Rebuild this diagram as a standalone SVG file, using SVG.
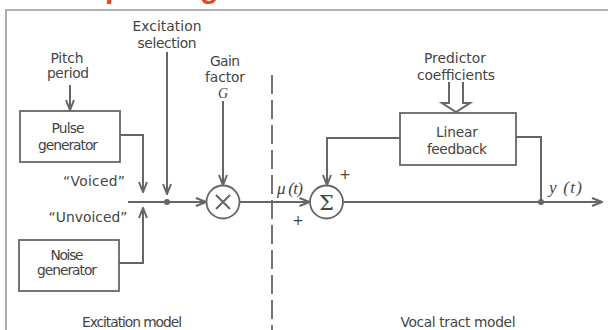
<svg xmlns="http://www.w3.org/2000/svg" width="608" height="330" viewBox="0 0 608 330">
<style>
.t{font-family:"DejaVu Sans","Liberation Sans",sans-serif;font-size:13.8px;fill:#444;text-anchor:middle}
.m{font-family:"Liberation Serif","DejaVu Serif",serif;font-style:italic;font-size:17px;fill:#444}
.ln{fill:none;stroke:#666;stroke-width:2}
.bx{fill:none;stroke:#666;stroke-width:1.8}
.ar{marker-end:url(#ah)}
</style>
<defs>
<marker id="ah" viewBox="0 0 12 10" refX="11" refY="5" markerWidth="12" markerHeight="10" markerUnits="userSpaceOnUse" orient="auto">
<path d="M1,1 L11,5 L1,9" fill="none" stroke="#666" stroke-width="2"/>
</marker>
</defs>
<rect width="608" height="330" fill="#fff"/>
<text x="85" y="-2.5" style="font-family:'Liberation Sans',Arial,sans-serif;font-weight:bold;font-size:30px;fill:#e8461e">Speaking</text>
<path d="M6,330 V10 H608" fill="none" stroke="#999" stroke-width="1.6"/>

<g id="labels">
<text class="t" x="167" y="30.5" textLength="69">Excitation</text>
<text class="t" x="167" y="47.5" textLength="59">selection</text>
<text class="t" x="67" y="63" textLength="33">Pitch</text>
<text class="t" x="68" y="78" textLength="42">period</text>
<text class="t" x="225" y="66" textLength="30">Gain</text>
<text class="t" x="225" y="82" textLength="40">factor</text>
<text class="m" x="223" y="98" text-anchor="middle" style="font-size:14px">G</text>
<text class="t" x="94" y="186" textLength="62">“Voiced”</text>
<text class="t" x="88" y="222" textLength="79">“Unvoiced”</text>
<text class="m" x="277" y="194" textLength="26">μ (t)</text>
<text class="t" x="298" y="225">+</text>
<text class="t" x="345" y="179">+</text>
<text class="t" x="455" y="63" textLength="62">Predictor</text>
<text class="t" x="456" y="80" textLength="78">coefficients</text>
<text class="m" x="549" y="193" textLength="33">y (t)</text>
<text class="t" x="132" y="327" textLength="100">Excitation model</text>
<text class="t" x="458" y="327" textLength="115">Vocal tract model</text>
</g>

<g id="pulse">
<rect class="bx" x="20" y="111" width="100" height="51"/>
<text class="t" x="68" y="133" textLength="33">Pulse</text>
<text class="t" x="68" y="150" textLength="60">generator</text>
</g>
<g id="noise">
<rect class="bx" x="19" y="240" width="100" height="51"/>
<text class="t" x="67" y="260" textLength="33">Noise</text>
<text class="t" x="67" y="275" textLength="60">generator</text>
</g>
<g id="mult">
<circle class="bx" cx="223" cy="202" r="16.5"/>
<path class="ln" d="M216,195 L230,209 M230,195 L216,209" stroke-width="1.6"/>
</g>
<g id="sum">
<circle class="bx" cx="326.5" cy="202" r="16.5"/>
<text x="326.5" y="209.5" style="font-family:'DejaVu Serif',serif;font-size:21px;fill:#444;text-anchor:middle">Σ</text>
</g>
<g id="linfb">
<rect class="bx" x="400" y="113" width="116" height="52"/>
<text class="t" x="457" y="137" textLength="42">Linear</text>
<text class="t" x="457" y="154" textLength="60">feedback</text>
</g>

<g id="connectors">
<path class="ln ar" d="M70,85 V110"/>
<path class="ln ar" d="M120,135 H143 V192"/>
<path class="ln ar" d="M119,263 H143 V208"/>
<path class="ln ar" d="M167,52 V194"/>
<path class="ln ar" d="M128,202 H206"/>
<circle cx="167" cy="202" r="3" fill="#666"/>
<path class="ln ar" d="M223,101 V185"/>
<path class="ln ar" d="M239.5,202 H309.5"/>
<path class="ln ar" d="M400,138 H327 V185"/>
<path class="ln ar" d="M343,202 H602"/>
<path class="ln" d="M516,137 H541 V202"/>
<circle cx="541" cy="202" r="3" fill="#666"/>
<path class="ln" d="M449,82 V103 H442 L456,112 L470,103 H463 V82" stroke-width="1.8"/>
<path d="M272,75 V330" fill="none" stroke="#666" stroke-width="1.8" stroke-dasharray="19 6"/>
</g>
</svg>
